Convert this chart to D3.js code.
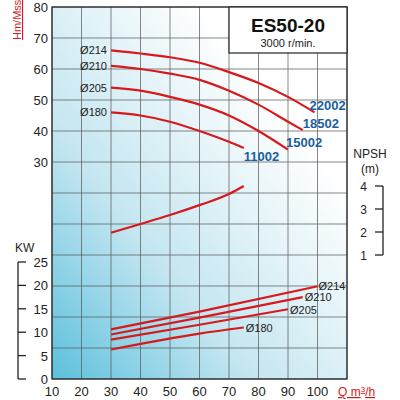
<!DOCTYPE html><html><head><meta charset="utf-8">
<script src="https://cdn.jsdelivr.net/npm/d3@7"></script>
<style>body{margin:0;background:#fff}svg{font-family:"Liberation Sans",Arial,sans-serif}</style></head><body>
<svg id="c" width="400" height="400"></svg>
<script>
const qTicks=[10,20,30,40,50,60,70,80,90,100];
const hTicks=[30,40,50,60,70,80];
const kwTicks=[0,5,10,15,20,25];
const npshTicks=[1,2,3,4];
const diameters=["Ø214","Ø210","Ø205","Ø180"];
const motors=["22002","18502","15002","11002"];
const headQ=[[30,40,50,60,70,80,90,99],[30,40,50,60,70,80,90,95],[30,40,50,60,70,80,90],[30,40,50,60,70,75]];
const headH=[[66,65,63.8,62,59,55.5,51,46],[61,60,58.5,56.5,53,48.5,43,40.3],[54,53,51,48.5,45,40,34],[46,45,43,40,36.5,34.5]];
const npshQ=[30,40,50,60,70,75];
const npshV=[1.97,2.35,2.74,3.17,3.65,4.0];
const kwQ=[[30,60,100],[30,60,95],[30,60,90],[30,60,75]];
const kwV=[[10.6,14.4,19.8],[9.5,13.1,17.5],[8.4,11.6,14.9],[6.3,9.7,11.0]];

const svg=d3.select("#c");
const L=52,R=347,T=7,B=379;
const x=d3.scaleLinear().domain([10,110]).range([L,R]);
const yH=d3.scaleLinear().domain([-40,80]).range([B,T]);
const yK=d3.scaleLinear().domain([0,25]).range([B,262]);
const yN=d3.scaleLinear().domain([1,4]).range([255,186]);
const defs=svg.append("defs");
const g=defs.append("linearGradient").attr("id","bg").attr("x1","0").attr("y1","1").attr("x2","0.75").attr("y2","0.25");
g.append("stop").attr("offset","0").attr("stop-color","#5cc0dc");
g.append("stop").attr("offset","0.45").attr("stop-color","#c4e6f1");
g.append("stop").attr("offset","1").attr("stop-color","#ffffff");
svg.append("rect").attr("x",L).attr("y",T).attr("width",R-L).attr("height",B-T).attr("fill","url(#bg)");
d3.range(10,111,10).forEach(v=>svg.append("line").attr("x1",x(v)).attr("x2",x(v)).attr("y1",T).attr("y2",B).attr("stroke","#555").attr("stroke-width",0.7));
d3.range(-40,81,10).forEach(v=>svg.append("line").attr("x1",L).attr("x2",R).attr("y1",yH(v)).attr("y2",yH(v)).attr("stroke","#555").attr("stroke-width",0.7));
svg.append("rect").attr("x",L).attr("y",T).attr("width",R-L).attr("height",B-T).attr("fill","none").attr("stroke","#222").attr("stroke-width",1.2);
const fs=13;
qTicks.forEach(v=>svg.append("text").attr("x",x(v)).attr("y",396).attr("text-anchor","middle").attr("font-size",fs).attr("fill","#222").text(v));
hTicks.forEach(v=>svg.append("text").attr("x",L-4).attr("y",yH(v)+5).attr("text-anchor","end").attr("font-size",fs).attr("fill","#222").text(v));
svg.append("text").attr("transform","translate(21,40) rotate(-90)").attr("font-size",11).attr("fill","#d7191c").attr("text-decoration","underline").text("Hm/Mss");
svg.append("text").attr("x",338).attr("y",396).attr("font-size",12).attr("fill","#d7191c").attr("text-decoration","underline").html('Q m<tspan dy="-4" font-size="8">3</tspan><tspan dy="4">/h</tspan>');
const ka=svg.append("g").attr("transform","translate(18,0)");
ka.append("line").attr("x1",0).attr("x2",0).attr("y1",yK(0)).attr("y2",yK(25)).attr("stroke","#222").attr("stroke-width",1.3);
kwTicks.forEach(v=>{ka.append("line").attr("x1",0).attr("x2",8).attr("y1",yK(v)).attr("y2",yK(v)).attr("stroke","#222").attr("stroke-width",1.3);
ka.append("text").attr("x",30).attr("y",yK(v)+5).attr("text-anchor","end").attr("font-size",fs).attr("fill","#222").text(v);});
svg.append("text").attr("x",15).attr("y",252).attr("font-size",12).attr("fill","#222").text("KW");
const na=svg.append("g").attr("transform","translate(383,0)");
na.append("line").attr("x1",0).attr("x2",0).attr("y1",yN(1)).attr("y2",yN(4)).attr("stroke","#222").attr("stroke-width",1.3);
npshTicks.forEach(v=>{na.append("line").attr("x1",-8).attr("x2",0).attr("y1",yN(v)).attr("y2",yN(v)).attr("stroke","#222").attr("stroke-width",1.3);
na.append("text").attr("x",-16).attr("y",yN(v)+5).attr("text-anchor","end").attr("font-size",12).attr("fill","#222").text(v);});
svg.append("text").attr("x",370).attr("y",158).attr("text-anchor","middle").attr("font-size",12).attr("fill","#222").text("NPSH");
svg.append("text").attr("x",370).attr("y",173).attr("text-anchor","middle").attr("font-size",12).attr("fill","#222").text("(m)");
svg.append("rect").attr("x",229).attr("y",7).attr("width",118).attr("height",46).attr("fill","#fff").attr("stroke","#222").attr("stroke-width",1.2);
svg.append("text").attr("x",288).attr("y",32).attr("text-anchor","middle").attr("font-size",19).attr("font-weight","bold").attr("fill","#111").text("ES50-20");
svg.append("text").attr("x",288).attr("y",47).attr("text-anchor","middle").attr("font-size",11).attr("fill","#222").text("3000 r/min.");
const red="#d7191c";
const ln=(xs,ys,sc)=>d3.line().x((d,i)=>x(xs[i])).y(d=>sc(d)).curve(d3.curveMonotoneX)(ys);
headH.forEach((hs,k)=>svg.append("path").attr("d",ln(headQ[k],hs,yH)).attr("fill","none").attr("stroke",red).attr("stroke-width",2.2));
svg.append("path").attr("d",ln(npshQ,npshV,yN)).attr("fill","none").attr("stroke",red).attr("stroke-width",2.2);
kwV.forEach((ks,k)=>svg.append("path").attr("d",ln(kwQ[k],ks,yK)).attr("fill","none").attr("stroke",red).attr("stroke-width",2.2));
diameters.forEach((d,k)=>svg.append("text").attr("x",x(30)-4).attr("y",yH(headH[k][0])+4).attr("text-anchor","end").attr("font-size",11).attr("fill","#222").text(d));
const mOff=[[-5,-2],[0,-2],[-2,-3],[0,13]];
motors.forEach((m,k)=>{const qe=headQ[k][headQ[k].length-1],he=headH[k][headH[k].length-1];
svg.append("text").attr("x",x(qe)+mOff[k][0]).attr("y",yH(he)+mOff[k][1]).attr("font-size",13).attr("font-weight","bold").attr("fill","#1a5fa0").text(m);});
kwV.forEach((ks,k)=>{const qe=kwQ[k][kwQ[k].length-1];
svg.append("text").attr("x",x(qe)+(k==0?1:2)).attr("y",yK(ks[ks.length-1])+(k==2?5:4)).attr("font-size",11).attr("fill","#222").text(diameters[k]);});
</script></body></html>
